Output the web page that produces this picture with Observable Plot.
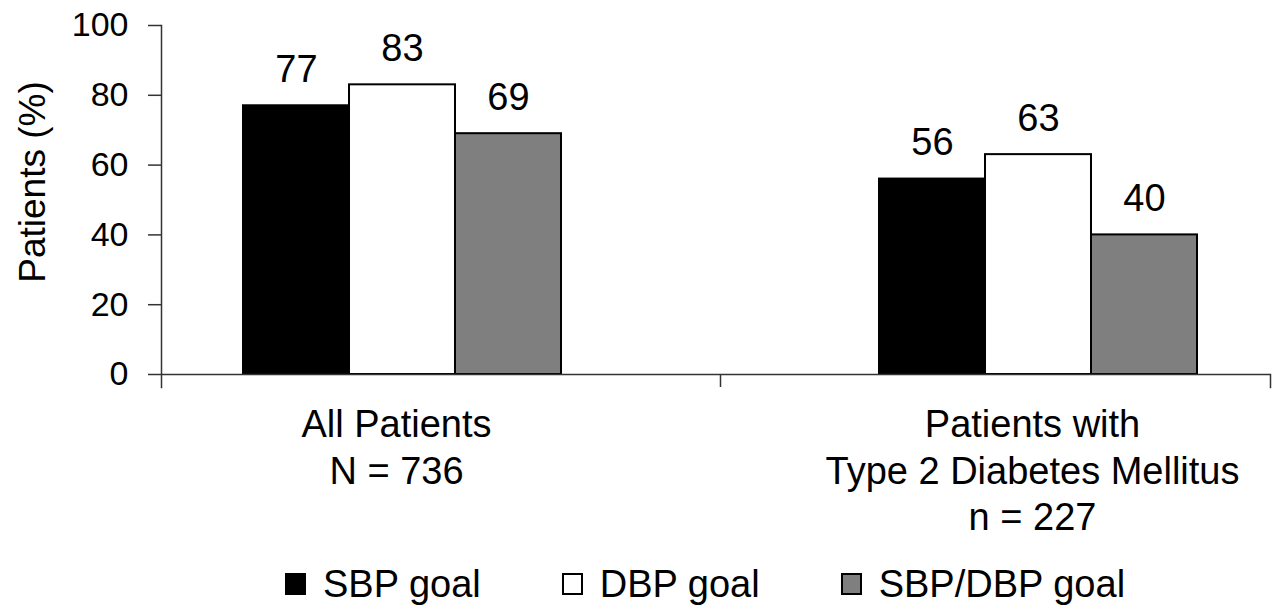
<!DOCTYPE html>
<html>
<head>
<meta charset="utf-8">
<script src="https://cdn.jsdelivr.net/npm/d3@7"></script>
<script src="https://cdn.jsdelivr.net/npm/@observablehq/plot@0.6"></script>
<style>
  html, body { margin: 0; padding: 0; background: #fff; }
  body { width: 1272px; height: 607px; overflow: hidden; font-family: "Liberation Sans", Arial, Helvetica, sans-serif; }
  #legend { display: flex; align-items: center; padding-left: 285px; font-size: 38px; line-height: 44px; color: #000; margin-top: 2px; }
  .item { display: flex; align-items: center; margin-right: 81px; }
  .sw { width: 17px; height: 18px; border: 2px solid #000; margin-right: 17px; box-sizing: content-box; }
</style>
</head>
<body>
<div id="chart"></div>
<div id="legend"></div>
<script>
const groups = ["All Patients\nN = 736", "Patients with\nType 2 Diabetes Mellitus\nn = 227"];
const seriesNames = ["SBP goal", "DBP goal", "SBP/DBP goal"];
const sbpGoal = [77, 56];
const dbpGoal = [83, 63];
const bothGoal = [69, 40];
const seriesColors = ["#000000", "#ffffff", "#7f7f7f"];
const yTicks = [0, 20, 40, 60, 80, 100];
const yLabel = "Patients (%)";

const values = [sbpGoal, dbpGoal, bothGoal];
const rows = groups.flatMap((g, gi) =>
  seriesNames.map((s, si) => ({group: g, series: s, key: gi + "|" + s, value: values[si][gi]}))
);
const gapKeys = ["gap-a", "gap-b", "gap-c"];
const xDomain = [
  ...rows.filter(d => d.group === groups[0]).map(d => d.key),
  ...gapKeys,
  ...rows.filter(d => d.group === groups[1]).map(d => d.key)
];
const groupLabels = groups.map((g, gi) => ({label: g, key: gi + "|" + seriesNames[1]}));

const W = 1272, H = 560, mT = 25, mB = 186, mL = 161, mR = 2;
const frameH = H - mT - mB;
const axisColor = "#333";
const font = "'Liberation Sans', Arial, Helvetica, sans-serif";

const chart = Plot.plot({
  width: W, height: H,
  marginLeft: mL, marginRight: mR, marginTop: mT, marginBottom: mB,
  style: {fontFamily: font, fontSize: "34px", color: "#000", background: "#fff", overflow: "visible"},
  x: {domain: xDomain, paddingInner: 0, paddingOuter: 0.7, align: 0.53, label: null},
  y: {domain: [0, 100], label: null},
  color: {domain: seriesNames, range: seriesColors},
  marks: [
    Plot.barY(rows, {x: "key", y: "value", fill: "series", stroke: "#000", strokeWidth: 2}),
    Plot.text(rows, {x: "key", y: "value", text: d => String(d.value), dy: -24, lineAnchor: "bottom", fontSize: 38}),
    Plot.ruleY([0], {stroke: axisColor, strokeWidth: 1.5}),
    Plot.frame({anchor: "left", insetBottom: -13, stroke: axisColor, strokeWidth: 1.5}),
    Plot.frame({anchor: "right", insetTop: frameH, insetBottom: -13, stroke: axisColor, strokeWidth: 1.5}),
    Plot.axisX({ticks: [gapKeys[1]], tickSize: 13, tickFormat: () => "", label: null, stroke: axisColor, strokeWidth: 1.5}),
    Plot.axisY({ticks: yTicks, tickSize: 13, tickPadding: 20, fontSize: 34, label: null, stroke: axisColor, strokeWidth: 1.5}),
    Plot.text(groupLabels, {x: "key", text: "label", frameAnchor: "bottom", lineAnchor: "top", dy: 30, dx: -6, fontSize: 38, lineHeight: 1.22}),
    Plot.text([yLabel], {frameAnchor: "left", rotate: -90, dx: -128, dy: -18, fontSize: 37, textAnchor: "middle"})
  ]
});
document.getElementById("chart").appendChild(chart);

const legend = document.getElementById("legend");
seriesNames.forEach((s, i) => {
  const item = document.createElement("div");
  item.className = "item";
  const sw = document.createElement("span");
  sw.className = "sw";
  sw.style.background = seriesColors[i];
  const t = document.createElement("span");
  t.textContent = s;
  item.appendChild(sw);
  item.appendChild(t);
  legend.appendChild(item);
});
</script>
</body>
</html>
